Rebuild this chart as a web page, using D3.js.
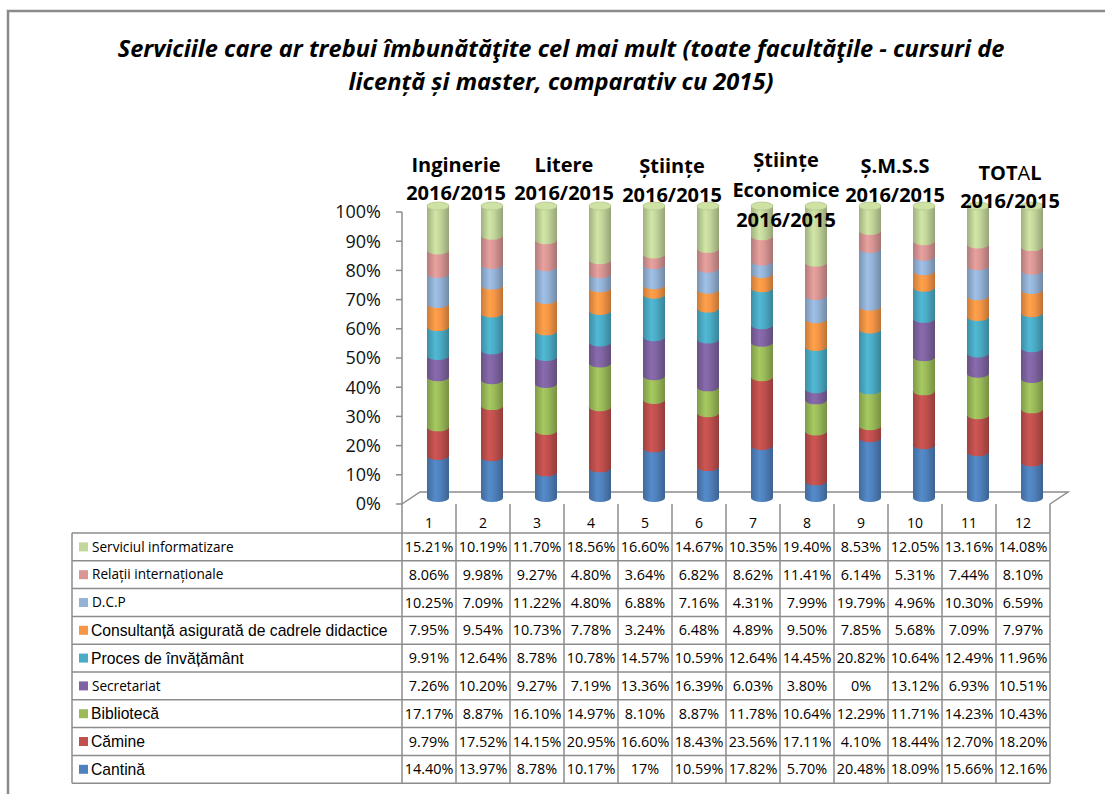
<!DOCTYPE html>
<html><head><meta charset="utf-8">
<script src="https://cdn.jsdelivr.net/npm/d3@7"></script>
<style>body{margin:0;background:#fff}svg{display:block}</style>
</head><body><svg id="c" width="1105" height="794"></svg>
<script>
// ---------------- data ----------------
const titleLines = ["Serviciile care ar trebui îmbunătăţite cel mai mult (toate facultăţile - cursuri de",
                    "licență și master, comparativ cu 2015)"];
const columns = ["1","2","3","4","5","6","7","8","9","10","11","12"];
const groups = [["Inginerie","2016/2015"],["Litere","2016/2015"],["Științe","2016/2015"],
                ["Științe","Economice","2016/2015"],["Ș.M.S.S","2016/2015"],["TOTAL","2016/2015"]];
// stacking order: bottom -> top
const seriesNames = ["Cantină","Cămine","Bibliotecă","Secretariat","Proces de învățământ",
  "Consultanță asigurată de cadrele didactice","D.C.P","Relații internaționale","Serviciul informatizare"];
const cantina       = [14.40,13.97,8.78,10.17,17,10.59,17.82,5.70,20.48,18.09,15.66,12.16];
const camine        = [9.79,17.52,14.15,20.95,16.60,18.43,23.56,17.11,4.10,18.44,12.70,18.20];
const biblioteca    = [17.17,8.87,16.10,14.97,8.10,8.87,11.78,10.64,12.29,11.71,14.23,10.43];
const secretariat   = [7.26,10.20,9.27,7.19,13.36,16.39,6.03,3.80,0,13.12,6.93,10.51];
const proces        = [9.91,12.64,8.78,10.78,14.57,10.59,12.64,14.45,20.82,10.64,12.49,11.96];
const consultanta   = [7.95,9.54,10.73,7.78,3.24,6.48,4.89,9.50,7.85,5.68,7.09,7.97];
const dcp           = [10.25,7.09,11.22,4.80,6.88,7.16,4.31,7.99,19.79,4.96,10.30,6.59];
const relatii       = [8.06,9.98,9.27,4.80,3.64,6.82,8.62,11.41,6.14,5.31,7.44,8.10];
const informatizare = [15.21,10.19,11.70,18.56,16.60,14.67,10.35,19.40,8.53,12.05,13.16,14.08];
const seriesValues = [cantina,camine,biblioteca,secretariat,proces,consultanta,dcp,relatii,informatizare];
const yTicks = [0,0.1,0.2,0.3,0.4,0.5,0.6,0.7,0.8,0.9,1];

// ---------------- style / layout ----------------
const colors = ["#4F81BD","#C0504D","#9BBB59","#8064A2","#4BACC6","#F79646","#95B3D7","#D99694","#C3D69B"];
// legend label font style per series (bottom -> top): true = Arial-like, false = Calibri-like
const legendArial = [true,true,true,false,true,true,false,false,false];
const gridCol = "#8c8c8c";
const svg = d3.select("#c");
const defs = svg.append("defs");

// outer frame
svg.append("path").attr("d","M8,794 L8,11 L1105,11").attr("fill","none")
  .attr("stroke","#8a8a8a").attr("stroke-width",2.5);

// title
const tg = svg.append("g");
titleLines.forEach((t,i)=>{
  tg.append("text").attr("x",561).attr("y",[57,90][i]).attr("text-anchor","middle")
    .attr("font-family","Open Sans").attr("font-style","italic").attr("font-weight",700)
    .attr("font-size",19.5).attr("fill","#000").text(t);
});
{
  const n = tg.select("text").node();
  const w = n.getComputedTextLength();
  const fs = 19.5*887/w;
  tg.selectAll("text").attr("font-size",fs);
}

// scales
const depthX = 18, depthY = 12;
const x = d3.scaleBand().domain(columns).range([402,1050]).padding(0);
const y = d3.scaleLinear().domain([0,1]).range([504,212]);

// axis
const axisG = svg.append("g");
axisG.append("line").attr("x1",402).attr("x2",402).attr("y1",y(1)).attr("y2",y(0))
  .attr("stroke",gridCol).attr("stroke-width",1.5);
axisG.selectAll(".tk").data(yTicks).join("line")
  .attr("x1",396).attr("x2",402).attr("y1",d=>y(d)).attr("y2",d=>y(d))
  .attr("stroke",gridCol).attr("stroke-width",1.5);
axisG.selectAll(".tl").data(yTicks).join("text")
  .attr("x",381).attr("y",d=>y(d)).attr("dy","0.35em").attr("text-anchor","end")
  .attr("font-family","Open Sans").attr("font-size",18).attr("fill","#111")
  .text(d3.format(".0%"));

// floor
svg.append("path")
  .attr("d",`M${x.range()[0]},${y(0)} L${x.range()[0]+depthX},${y(0)-depthY} L${x.range()[1]+depthX},${y(0)-depthY} L${x.range()[1]},${y(0)}`)
  .attr("fill","#fff").attr("stroke",gridCol).attr("stroke-width",1.5);

// gradients
colors.forEach((c,i)=>{
  const g = defs.append("linearGradient").attr("id","g"+i).attr("x1",0).attr("x2",1).attr("y1",0).attr("y2",0);
  const base = d3.color(c);
  [[0,base.darker(0.55)],[0.38,base.brighter(0.2)],[0.6,base],[1,base.darker(0.75)]].forEach(([o,col])=>{
    g.append("stop").attr("offset",o).attr("stop-color",col.formatHex());
  });
});

// stacked data (percent)
const totals = columns.map((_,j)=>d3.sum(seriesValues,s=>s[j]));
const rx = 11, ry = 4;
const barsG = svg.append("g");
columns.forEach((col,j)=>{
  const cx = x(col)+x.bandwidth()/2+depthX/2;
  let cum = 0;
  seriesValues.forEach((s,i)=>{
    const v = s[j]/totals[j];
    const y0 = y(cum)-depthY/2, y1 = y(cum+v)-depthY/2;
    cum += v;
    if (v<=0) return;
    barsG.append("path")
      .attr("d",`M${cx-rx},${y1} A${rx},${ry} 0 0 1 ${cx+rx},${y1} L${cx+rx},${y0} A${rx},${ry} 0 0 1 ${cx-rx},${y0} Z`)
      .attr("fill",`url(#g${i})`);
  });
  barsG.append("ellipse").attr("cx",cx).attr("cy",y(1)-depthY/2).attr("rx",rx).attr("ry",ry)
    .attr("fill",d3.color(colors[colors.length-1]).brighter(0.15).formatHex())
    .attr("stroke",d3.color(colors[colors.length-1]).darker(0.3).formatHex()).attr("stroke-width",0.6);
});

// group labels
const groupNudge = [[0,[172,200]],[0,[172,200]],[0,[173,202]],[6,[167,197,227]],[7,[173,202]],[14,[180,208]]];
const lg = svg.append("g");
groups.forEach((lines,k)=>{
  const cx = x(columns[2*k])+x.bandwidth()+groupNudge[k][0];
  lines.forEach((t,li)=>{
    const te = lg.append("text").attr("x",cx).attr("y",groupNudge[k][1][li]).attr("text-anchor","middle")
      .attr("font-family","Open Sans").attr("font-weight",700).attr("font-size",20).attr("fill","#000");
    if (t==="TOTAL") {
      te.append("tspan").text("TOT");
      te.append("tspan").attr("font-weight",400).text("A");
      te.append("tspan").text("L");
    } else te.text(t);
  });
});

// data table
const tbl = svg.append("g");
const tLeft = 72, rowTop = 533, rowH = 27.8;
const rows = seriesNames.map((n,i)=>({name:n,vals:seriesValues[i],ci:i})).reverse();
const tBottom = rowTop + rows.length*rowH;
tbl.selectAll(".hn").data(columns).join("text")
  .attr("x",d=>x(d)+x.bandwidth()/2).attr("y",rowTop-5).attr("text-anchor","middle")
  .attr("font-family","Open Sans").attr("font-size",14).attr("fill","#000").text(d=>d);
d3.range(rows.length+1).forEach(r=>{
  tbl.append("line").attr("x1",tLeft).attr("x2",x.range()[1]).attr("y1",rowTop+r*rowH).attr("y2",rowTop+r*rowH)
    .attr("stroke",gridCol).attr("stroke-width",1.5);
});
tbl.append("line").attr("x1",tLeft).attr("x2",tLeft).attr("y1",rowTop).attr("y2",tBottom)
  .attr("stroke",gridCol).attr("stroke-width",1.5);
columns.concat(["end"]).forEach((c,k)=>{
  const xx = k<columns.length ? x(c) : x.range()[1];
  tbl.append("line").attr("x1",xx).attr("x2",xx).attr("y1",y(0)).attr("y2",tBottom)
    .attr("stroke",gridCol).attr("stroke-width",1.5);
});
const fmt = v => Number.isInteger(v) ? v+"%" : v.toFixed(2)+"%";
rows.forEach((r,ri)=>{
  const cy = rowTop + ri*rowH + rowH/2;
  tbl.append("rect").attr("x",79).attr("y",cy-4.5).attr("width",9).attr("height",9).attr("fill",colors[r.ci]);
  const arial = legendArial[r.ci];
  tbl.append("text").attr("x",arial?91:92).attr("y",cy).attr("dy","0.35em")
    .attr("font-family",arial?"Liberation Sans":"Open Sans").attr("font-size",arial?15.7:13.6)
    .attr("fill","#000").text(r.name);
  columns.forEach((c,j)=>{
    tbl.append("text").attr("x",x(c)+x.bandwidth()/2).attr("y",cy).attr("dy","0.36em").attr("text-anchor","middle")
      .attr("font-family","Open Sans").attr("font-size",14.4).attr("fill","#000").text(fmt(r.vals[j]));
  });
});
</script>
</body></html>
